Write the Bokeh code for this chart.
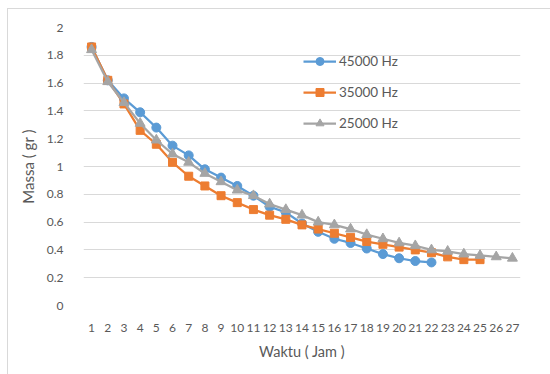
from bokeh.plotting import figure
from bokeh.models import Range1d, FixedTicker, Legend, LegendItem
from bokeh.embed import file_html
from bokeh.resources import INLINE

hours = list(range(1, 28))
series_names = ["45000 Hz", "35000 Hz", "25000 Hz"]
mass_45000 = [1.86, 1.62, 1.49, 1.39, 1.28, 1.15, 1.08, 0.98, 0.92, 0.86, 0.79,
              0.71, 0.67, 0.59, 0.53, 0.48, 0.45, 0.41, 0.37, 0.34, 0.32, 0.31]
mass_35000 = [1.86, 1.62, 1.45, 1.26, 1.16, 1.03, 0.93, 0.86, 0.79, 0.74, 0.69,
              0.65, 0.62, 0.58, 0.55, 0.52, 0.49, 0.46, 0.44, 0.42, 0.40, 0.38,
              0.35, 0.33, 0.33]
mass_25000 = [1.84, 1.61, 1.46, 1.31, 1.19, 1.09, 1.03, 0.95, 0.89, 0.83, 0.79,
              0.73, 0.69, 0.65, 0.60, 0.58, 0.55, 0.51, 0.48, 0.45, 0.43, 0.40,
              0.39, 0.37, 0.36, 0.35, 0.34]
y_ticks = [0, 0.2, 0.4, 0.6, 0.8, 1, 1.2, 1.4, 1.6, 1.8, 2]

FONT = "Lato"
TXT = "#595959"

OFF_X, OFF_Y = 7, 8
p = figure(width=550 - OFF_X, height=374 - OFF_Y, output_backend="svg",
           toolbar_location=None,
           x_range=Range1d(0.5, 27.5), y_range=Range1d(0, 2),
           min_border_left=82 - OFF_X, min_border_right=31, min_border_top=26 - OFF_Y,
           min_border_bottom=70)
p.margin = (OFF_Y, 0, 0, OFF_X)
p.styles = {"border-top": "1px solid #d9d9d9", "border-left": "1px solid #d9d9d9",
            "box-sizing": "border-box"}
p.outline_line_color = None
p.background_fill_color = "white"
p.border_fill_color = "white"

p.xgrid.grid_line_color = None
p.ygrid.grid_line_color = "#d9d9d9"
p.ygrid.grid_line_width = 1

p.xaxis.ticker = FixedTicker(ticks=hours)
p.yaxis.ticker = FixedTicker(ticks=y_ticks)
p.yaxis.major_label_overrides = {t: ("%g" % t) for t in y_ticks}

for ax in (p.xaxis[0], p.yaxis[0]):
    ax.axis_line_color = None
    ax.major_tick_line_color = None
    ax.minor_tick_line_color = None
    ax.major_label_text_font = FONT
    ax.major_label_text_font_size = "12px"
    ax.major_label_text_color = TXT
    ax.axis_label_text_font = FONT
    ax.axis_label_text_font_style = "normal"
    ax.axis_label_text_color = TXT

p.xaxis.axis_label = "Waktu ( Jam )"
p.yaxis.axis_label = "Massa ( gr )"
p.xaxis.axis_label_text_font_size = "14.5px"
p.yaxis.axis_label_text_font_size = "15px"
p.xaxis.major_label_standoff = 12
p.xaxis.axis_label_standoff = 8
p.yaxis.major_label_standoff = 14
p.yaxis.axis_label_standoff = 7

colors = ["#5B9BD5", "#ED7D31", "#A5A5A5"]
markers = ["circle", "square", "triangle"]
sizes = [9, 8, 10]
datas = [mass_45000, mass_35000, mass_25000]

items = []
for name, data, c, m, s in zip(series_names, datas, colors, markers, sizes):
    xs = hours[:len(data)]
    r1 = p.line(xs, data, line_color=c, line_width=2.25)
    r2 = p.scatter(xs, data, marker=m, size=s, fill_color=c, line_color=c)
    items.append(LegendItem(label=name, renderers=[r1, r2]))

legend = Legend(items=items, location=(220, 172), orientation="vertical",
                glyph_width=33, glyph_height=20, spacing=11, padding=0, margin=0,
                label_standoff=3, label_text_font=FONT, label_text_font_size="13.5px",
                label_text_color=TXT, background_fill_alpha=0,
                border_line_color=None, label_height=20)
p.add_layout(legend, "center")

open("out.html", "w").write(file_html(p, INLINE))
